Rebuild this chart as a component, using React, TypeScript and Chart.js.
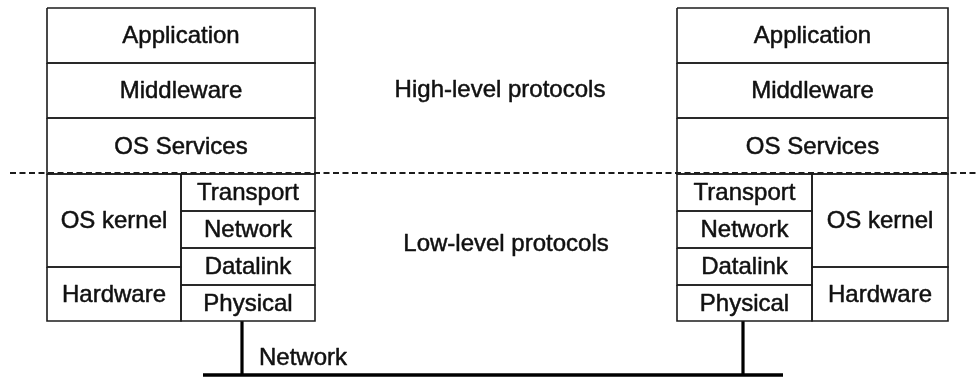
import React, { useEffect, useRef } from "react";
import { Chart, registerables } from "chart.js";

Chart.register(...registerables);

// ---- Diagram data (diagram units, x: 0..979, y: 0..378 top-down) ----
const upperLayers = ["Application", "Middleware", "OS Services"];
const upperEdges = [8, 63, 118, 174];

const protocolLayers = ["Transport", "Network", "Datalink", "Physical"];
const protocolEdges = [174, 211, 248, 285, 321];

const systemLayers = ["OS kernel", "Hardware"];
const systemEdges = [174, 267, 321];

const hostLeft = [47, 677];
const hostSplit = [181, 812];
const hostRight = [315, 948];
const protocolOnRight = [true, false];

const tapX = [242, 743];
const networkY = 375;
const networkStart = 203;
const networkEnd = 783;
const networkLabel = "Network";
const networkLabelX = 259;
const networkLabelY = 357;

const dividerY = 173;
const dividerStart = 10;
const dividerEnd = 979;

const regionLabels = ["High-level protocols", "Low-level protocols"];
const regionX = [500, 506];
const regionY = [89, 243];

type Txt = { text: string; x: number; y: number; align: CanvasTextAlign };

function rect(x0: number, x1: number, y0: number, y1: number) {
  return [
    { x: x0, y: y0 },
    { x: x1, y: y0 },
    { x: x1, y: y1 },
    { x: x0, y: y1 },
    { x: x0, y: y0 },
  ];
}

function buildDiagram() {
  const boxes: { x: number; y: number }[][] = [];
  const texts: Txt[] = [];
  hostLeft.forEach((l, h) => {
    const r = hostRight[h];
    const s = hostSplit[h];
    upperLayers.forEach((name, i) => {
      boxes.push(rect(l, r, upperEdges[i], upperEdges[i + 1]));
      texts.push({ text: name, x: (l + r) / 2, y: (upperEdges[i] + upperEdges[i + 1]) / 2, align: "center" });
    });
    const pL = protocolOnRight[h] ? s : l;
    const pR = protocolOnRight[h] ? r : s;
    const sL = protocolOnRight[h] ? l : s;
    const sR = protocolOnRight[h] ? s : r;
    protocolLayers.forEach((name, i) => {
      boxes.push(rect(pL, pR, protocolEdges[i], protocolEdges[i + 1]));
      texts.push({ text: name, x: (pL + pR) / 2, y: (protocolEdges[i] + protocolEdges[i + 1]) / 2, align: "center" });
    });
    systemLayers.forEach((name, i) => {
      boxes.push(rect(sL, sR, systemEdges[i], systemEdges[i + 1]));
      texts.push({ text: name, x: (sL + sR) / 2, y: (systemEdges[i] + systemEdges[i + 1]) / 2, align: "center" });
    });
  });
  regionLabels.forEach((t, i) => texts.push({ text: t, x: regionX[i], y: regionY[i], align: "center" }));
  texts.push({ text: networkLabel, x: networkLabelX, y: networkLabelY, align: "left" });
  return { boxes, texts };
}

export default function App() {
  const ref = useRef<HTMLCanvasElement | null>(null);

  useEffect(() => {
    document.body.style.margin = "0";
    const canvas = ref.current;
    if (!canvas) return;
    const { boxes, texts } = buildDiagram();

    const datasets: any[] = [];
    boxes.forEach((b) =>
      datasets.push({
        data: b,
        showLine: true,
        borderColor: "#1c1c1c",
        borderWidth: 1.6,
        pointRadius: 0,
        borderJoinStyle: "miter",
        tension: 0,
      })
    );
    datasets.push({
      data: [
        { x: dividerStart, y: dividerY },
        { x: dividerEnd, y: dividerY },
      ],
      showLine: true,
      borderColor: "#1c1c1c",
      borderWidth: 1.9,
      borderDash: [6, 3.5],
      pointRadius: 0,
    });
    tapX.forEach((tx) =>
      datasets.push({
        data: [
          { x: tx, y: protocolEdges[protocolEdges.length - 1] },
          { x: tx, y: networkY },
        ],
        showLine: true,
        borderColor: "#000",
        borderWidth: 3.2,
        pointRadius: 0,
      })
    );
    datasets.push({
      data: [
        { x: networkStart, y: networkY },
        { x: networkEnd, y: networkY },
      ],
      showLine: true,
      borderColor: "#000",
      borderWidth: 3.4,
      pointRadius: 0,
    });

    const textPlugin = {
      id: "diagramText",
      afterDatasetsDraw(chart: any) {
        const ctx = chart.ctx;
        const xs = chart.scales.x;
        const ys = chart.scales.y;
        ctx.save();
        ctx.fillStyle = "#111";
        ctx.strokeStyle = "#111";
        ctx.lineWidth = 0.5;
        ctx.lineJoin = "round";
        ctx.font = '24px "Liberation Sans", Arial, sans-serif';
        ctx.textBaseline = "middle";
        texts.forEach((t) => {
          ctx.textAlign = t.align;
          const px = xs.getPixelForValue(t.x);
          const py = ys.getPixelForValue(t.y) + 1;
          ctx.fillText(t.text, px, py);
          ctx.strokeText(t.text, px, py);
        });
        ctx.restore();
      },
    };

    const chart = new Chart(canvas, {
      type: "scatter",
      data: { datasets },
      options: {
        animation: false,
        responsive: false,
        maintainAspectRatio: false,
        layout: { padding: 0 },
        plugins: { legend: { display: false }, tooltip: { enabled: false } },
        elements: { line: { fill: false } },
        scales: {
          x: { type: "linear", min: 0, max: 979, display: false },
          y: { type: "linear", min: 0, max: 378, reverse: true, display: false },
        },
        datasets: { scatter: { clip: false } } as any,
      },
      plugins: [textPlugin],
    });
    return () => chart.destroy();
  }, []);

  return (
    <div style={{ width: 979, height: 378, background: "#fff" }}>
      <canvas ref={ref} width={979} height={378} style={{ display: "block" }} />
    </div>
  );
}
